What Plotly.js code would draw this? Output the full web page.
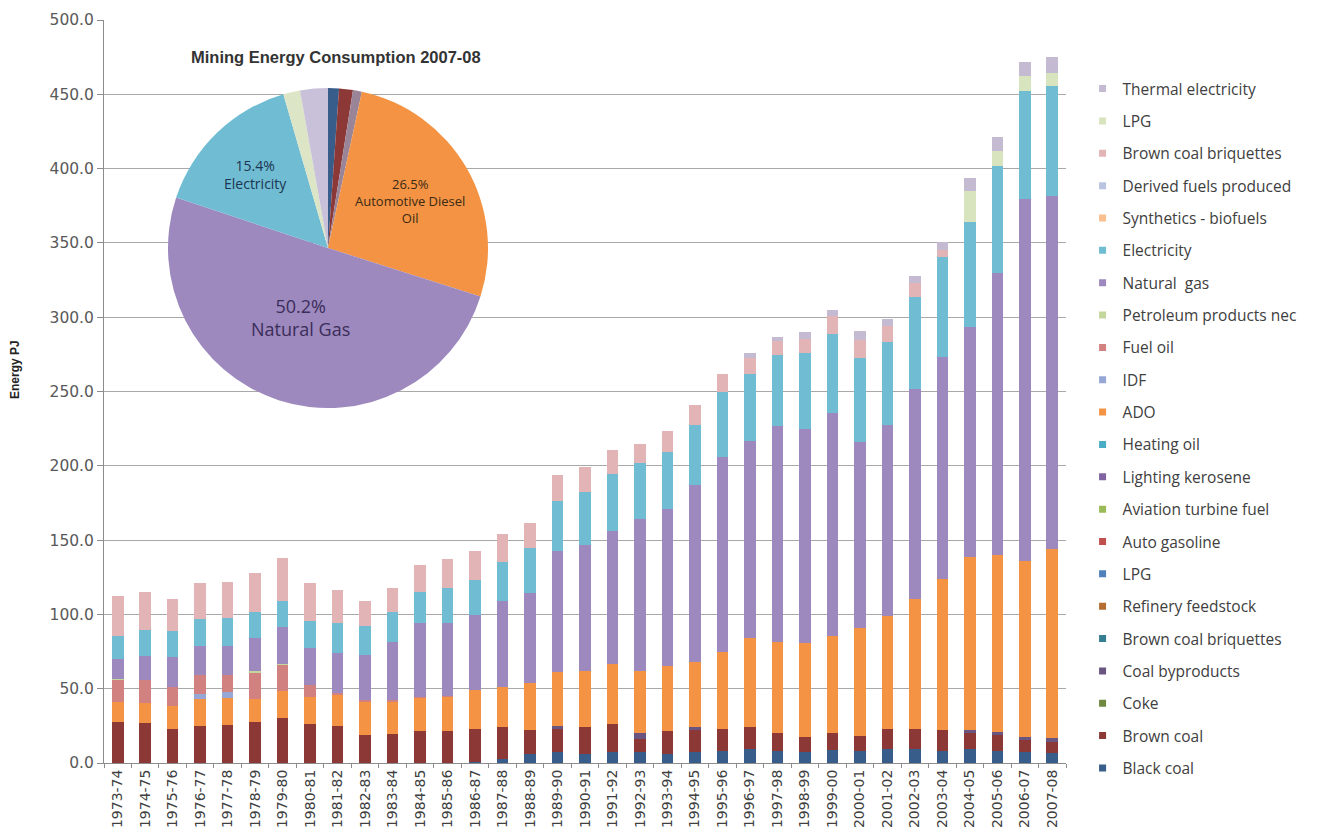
<!DOCTYPE html>
<html><head><meta charset="utf-8">
<script src="https://cdn.plot.ly/plotly-3.0.1.min.js"></script>
<style>html,body{margin:0;padding:0;background:#fff;} #chart{width:1317px;height:838px;}</style>
</head><body><div id="chart"></div>
<script>
// ---------- DATA ----------
const years = ["1973-74","1974-75","1975-76","1976-77","1977-78","1978-79","1979-80","1980-81","1981-82","1982-83","1983-84","1984-85","1985-86","1986-87","1987-88","1988-89","1989-90","1990-91","1991-92","1992-93","1993-94","1994-95","1995-96","1996-97","1997-98","1998-99","1999-00","2000-01","2001-02","2002-03","2003-04","2004-05","2005-06","2006-07","2007-08"];

const blackCoal      = [0,0,0,0,0,0,0,0,0,0,0,0,0,0.5,3,6,7.6,6,7.2,7.2,6,7.6,8.3,9.5,8.1,7.6,8.5,8.1,9.2,9.2,8.1,9.2,8.1,7.6,6.9];
const brownCoal      = [27.5,26.8,23,25.2,25.7,27.5,30.2,26.4,24.8,18.9,19.6,21.6,21.8,22.4,21,16.5,15.6,18,19.1,9,15.8,14.4,14.6,15,12,10.2,11.6,10.4,13.9,13.9,13.8,11.2,10.7,8.2,7.5];
const coalByproducts = [0,0,0,0,0,0,0,0,0,0,0,0,0,0,0,0,2,0,0,4,0,2,0,0,0,0,0,0,0,0,0,2,2,2,2.5];
const ado            = [13.5,13.7,15.3,18,18,15.7,18,18,20.7,22.2,21.7,22.2,22.6,25.9,27,31.2,35.9,37.6,40.4,41.6,43.8,44.3,51.7,59.5,61.4,63,65.3,72.2,75.5,87,101.6,116.1,118.9,118.4,127.4];
const idf            = [0,0,0,3.4,4,0,0,0,0,0,0,0,0,0,0,0,0,0,0,0,0,0,0,0,0,0,0,0,0,0,0,0,0,0,0];
const fuelOil        = [14.8,15.1,12.8,12.4,11.3,17.5,17.7,7.9,1.5,1.0,0.8,0.6,0.6,0,0,0,0,0,0,0,0,0,0,0,0,0,0,0,0,0,0,0,0,0,0];
const petroleumNec   = [1,0,0,0,0,1,1,0,0,0,0,0,0,0,0,0,0,0,0,0,0,0,0,0,0,0,0,0,0,0,0,0,0,0,0];
const naturalGas     = [13.0,16.5,20.3,19.8,19.8,22.1,24.8,25.2,27.3,30.4,39.4,49.5,48.9,50.5,58,60.9,81.4,85.4,89.5,102.2,105,118.7,131.4,133,145.4,143.8,150.1,125.1,128.8,141.5,150,154.7,189.9,243.3,237.4];
const electricity    = [15.6,17.3,17.3,18,18.5,18,17.3,18.2,19.6,19.8,20.3,21.4,24.1,23.6,26.3,30.4,33.9,35.5,38,38,38.8,40.4,44,45,47.8,51.3,53,56.6,55.8,61.8,66.8,70.6,72.3,72.7,73.9];
const briquettes2    = [27.2,25.5,21.7,24.2,24.3,25.9,28.8,25.3,22.5,16.7,16.2,18,19,19.8,18.6,16.8,17.3,16.8,16.4,13,14,13.5,12,10.5,9.3,9.3,12.2,12.5,10.7,9.6,5,0,0,0,0];
const lpg2           = [0,0,0,0,0,0,0,0,0,0,0,0,0,0,0,0,0,0,0,0,0,0,0,0,0,0,0,0,0,0,0,21.3,10,10.1,9];
const thermalElec    = [0,0,0,0,0,0,0,0,0,0,0,0,0,0,0,0,0,0,0,0,0,0,0,3.5,3,5,4,6,5,5,5.1,8.5,9.4,9.6,10.5];
const negligible     = [0,0,0,0,0,0,0,0,0,0,0,0,0,0,0,0,0,0,0,0,0,0,0,0,0,0,0,0,0,0,0,0,0,0,0];

// series in stacking order (bottom -> top)
const seriesNames  = ["Black coal","Brown coal","Coke","Coal byproducts","Brown coal briquettes","Refinery feedstock","LPG","Auto gasoline","Aviation turbine fuel","Lighting kerosene","Heating oil","ADO","IDF","Fuel oil","Petroleum products nec","Natural  gas","Electricity","Synthetics - biofuels","Derived fuels produced","Brown coal briquettes","LPG","Thermal electricity"];
const seriesValues = [blackCoal,brownCoal,negligible,coalByproducts,negligible,negligible,negligible,negligible,negligible,negligible,negligible,ado,idf,fuelOil,petroleumNec,naturalGas,electricity,negligible,negligible,briquettes2,lpg2,thermalElec];
const seriesColors = ["#385D8A","#8C3836","#71893F","#6A5580","#357D91","#B66D31","#4F81BD","#C0504D","#9BBB59","#8064A2","#4BACC6","#F39343","#95A7D5","#D08180","#C3D69B","#9D89BE","#6FBCD3","#FAC090","#B9C4E0","#E2B4B6","#D7E4BD","#C4BBD3"];

// pie (2007-08 shares, %), clockwise from 12 o'clock
const pieLabels = ["Black coal","Brown coal","Coal byproducts","Automotive Diesel Oil","Natural Gas","Electricity","LPG","Thermal electricity"];
const pieValues = [1.1,1.4,0.9,26.5,50.2,15.4,1.7,2.8];
const pieColors = ["#385D8A","#8C3836","#9A8598","#F39343","#9D89BE","#6FBCD3","#DCE5C6","#C9C0DA"];
const pieTitle  = "Mining Energy Consumption 2007-08";
const pieTexts  = ["15.4%<br>Electricity","26.5%<br>Automotive Diesel<br>Oil","50.2%<br>Natural Gas"];

// ---------- LAYOUT HELPERS ----------
const L = 104, T = 20, W = 962, H = 743;
const fx = px => (px - L) / W;
const fy = py => (T + H - py) / H;
const N = seriesNames.length;

const traces = seriesNames.map((n, i) => ({
  type: 'bar', name: n, x: years, y: seriesValues[i],
  marker: {color: seriesColors[i], line: {width: 0}},
  showlegend: false, hoverinfo: 'skip'
}));

// legend entries (small square keys, top entry = last stacked series)
seriesNames.forEach((n, i) => traces.push({
  type: 'scatter', mode: 'markers', name: n, x: [null], y: [null],
  marker: {symbol: 'square', size: 7, color: seriesColors[i]},
  legendgroup: 'g' + i, legendrank: N - i, hoverinfo: 'skip'
}));

traces.push({
  type: 'pie', labels: pieLabels, values: pieValues, sort: false,
  direction: 'clockwise', rotation: 0, textinfo: 'none', showlegend: false,
  marker: {colors: pieColors, line: {width: 0}}, hoverinfo: 'skip',
  domain: {x: [fx(168), fx(488)], y: [fy(408), fy(88)]}
});

const ann = (text, px, py, font, extra) => Object.assign({
  text: text, xref: 'paper', yref: 'paper', x: fx(px), y: fy(py),
  xanchor: 'center', yanchor: 'middle', showarrow: false, font: font
}, extra || {});

const layout = {
  width: 1317, height: 838,
  margin: {l: L, r: 1317 - L - W, t: T, b: 838 - T - H},
  paper_bgcolor: '#ffffff', plot_bgcolor: '#ffffff',
  barmode: 'stack', bargap: 0.58,
  showlegend: true,
  font: {family: 'Open Sans, sans-serif', color: '#404040'},
  xaxis: {
    type: 'category', tickangle: -90, ticks: 'outside', tickson: 'boundaries',
    ticklen: 4, tickcolor: '#8c8c8c', showline: true, linecolor: '#8c8c8c', linewidth: 1,
    showgrid: false, tickfont: {family: 'DejaVu Sans', size: 14, color: '#404040'},
    range: [-0.5, 34.5]
  },
  yaxis: {
    range: [0, 500], dtick: 50, tickformat: '.1f', ticks: 'outside', ticklen: 6,
    tickcolor: '#8c8c8c', showline: true, linecolor: '#8c8c8c', linewidth: 1,
    gridcolor: '#a8a8a8', gridwidth: 1, zeroline: false,
    tickfont: {family: 'DejaVu Sans', size: 15.5, color: '#595959'}
  },
  legend: {
    xref: 'container', yref: 'container', x: 0.822, y: 1 - 72/838,
    xanchor: 'left', yanchor: 'top', traceorder: 'grouped', maxheight: 1,
    tracegroupgap: 9.2, font: {family: 'Open Sans', size: 15.5, color: '#404040'},
    bgcolor: 'rgba(0,0,0,0)', itemclick: false
  },
  shapes: [{
    type: 'rect', xref: 'paper', yref: 'paper', layer: 'between',
    x0: fx(140), x1: fx(573), y0: fy(440), y1: fy(30),
    fillcolor: '#ffffff', line: {width: 0}
  }],
  annotations: [
    ann(pieTitle, 336, 57, {family: 'Liberation Sans', size: 16.5, color: '#333333', weight: 'bold'}),
    ann(pieTexts[0], 255, 174, {family: 'Open Sans', size: 14, color: '#1c3550'}),
    ann(pieTexts[1], 410, 201, {family: 'Open Sans', size: 13, color: '#3a2a15'}),
    ann(pieTexts[2], 300, 318, {family: 'Open Sans', size: 18, color: '#3b2d5a'}),
    ann('Energy PJ', 15, 370, {family: 'Liberation Sans', size: 12, color: '#222222', weight: 'bold'}, {textangle: -90})
  ]
};

Plotly.newPlot('chart', traces, layout, {staticPlot: true, displayModeBar: false});
</script>
</body></html>
